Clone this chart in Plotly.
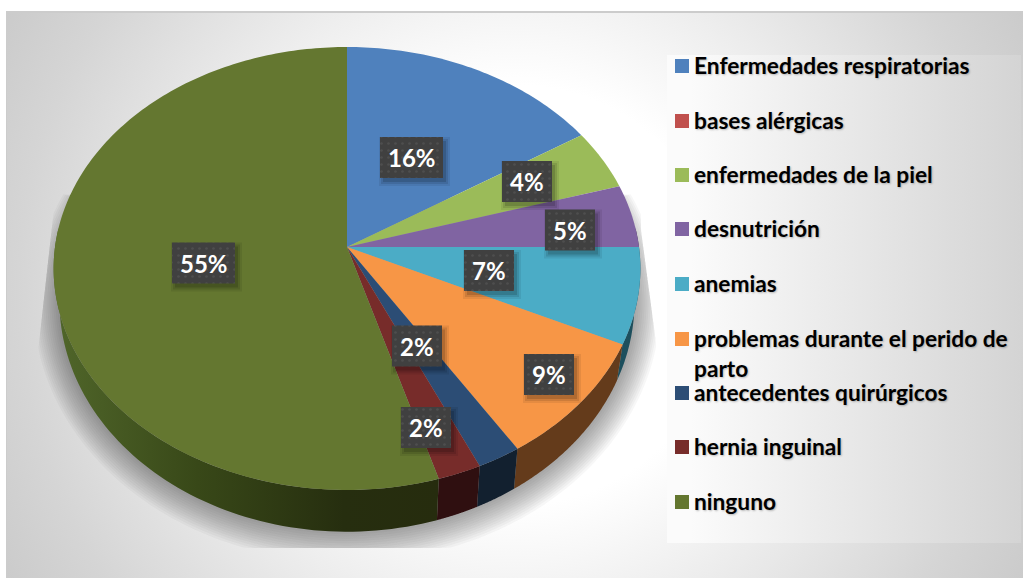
import base64
import numpy as np
import plotly.graph_objects as go

categories = ["Enfermedades respiratorias", "bases alérgicas", "enfermedades de la piel",
              "desnutrición", "anemias", "problemas durante el perido de<br>parto",
              "antecedentes quirúrgicos", "hernia inguinal", "ninguno"]
values = [16, 0, 4.4, 4.6, 7, 9, 2.2, 2.2, 54.6]
colors = ["#4F81BD", "#C0504D", "#9BBB59", "#8064A2", "#4BACC6", "#F79646", "#2C4D75", "#772C2A", "#647730"]
wall_colors = ["#27405E", "#602826", "#4D5D2C", "#403251", "#1D4F5D", "#643B1B", "#12202F", "#2F0F10", "#2A3010"]

# Layout of the tilted pie (pixels of the figure)
CX, CY, AX, BY, K = 347, 247, 292, 219.4, 0.097
WALL_SX, WALL_SY, WALL_D = 0.98, 1.04, 32
label_boxes = {0: (411.5, 157.5), 2: (527, 181.5), 3: (570, 230), 4: (489, 270.5), 5: (549, 374.5),
               6: (417, 346), 7: (426, 427.5), 8: (203.5, 263)}
LEG_Y = [66, 121, 175, 229, 284, 339, 393, 447, 502]


def top_rim(th):
    u, v = np.sin(th), np.cos(th)
    w = 1 + K * v
    return CX + AX * u / w, CY - BY * v / w


def bottom_rim(th):
    x, y = top_rim(th)
    return CX + (x - CX) * WALL_SX, CY + WALL_D + (y - CY) * WALL_SY


svg = """<svg xmlns='http://www.w3.org/2000/svg' width='1023' height='578'>
<defs>
<radialGradient id='g' gradientUnits='userSpaceOnUse' cx='515' cy='295' r='700'>
<stop offset='0.3' stop-color='#ffffff'/><stop offset='0.46' stop-color='#efefef'/>
<stop offset='0.71' stop-color='#d5d5d5'/><stop offset='1' stop-color='#bdbdbd'/></radialGradient>
<linearGradient id='p' gradientUnits='userSpaceOnUse' x1='690' y1='0' x2='1021' y2='0'>
<stop offset='0' stop-color='#fbfbfb'/><stop offset='1' stop-color='#d4d4d4'/></linearGradient>
</defs>
<rect width='1023' height='578' fill='#ffffff'/>
<rect x='6' y='11' width='1017' height='567' fill='#cccccc'/>
<rect x='7' y='13' width='1016' height='565' fill='url(#g)'/>
<rect x='667' y='55' width='354' height='488' fill='url(#p)'/>
</svg>"""
bg = "data:image/svg+xml;base64," + base64.b64encode(svg.encode()).decode()

fig = go.Figure()

# soft cast shadow under the pie, clipped to its frame like the reference
for i, t in enumerate(np.linspace(1.12, 1.0, 14)):
    th = np.radians(np.linspace(70, 290, 220))
    x, y = bottom_rim(th)
    x = CX + (x - CX) * (1 + (t - 1) * 0.75)
    y = CY + WALL_D + (y - CY - WALL_D) * t
    yc = np.minimum(y, 548)
    left = np.interp(yc, [190, 370], [56, 36])
    right = np.interp(yc, [230, 350], [641, 657])
    x = np.clip(x, left, right)
    fig.add_trace(go.Scatter(x=x, y=yc, fill="toself", mode="none", fillcolor="rgba(60,60,60,0.04)",
                             hoverinfo="skip", showlegend=False))

edges = np.cumsum([0] + values) / sum(values) * 2 * np.pi
VIS0, VIS1 = np.radians(85), np.radians(275)

# side wall of each slice
for i, name in enumerate(categories):
    a, b = max(edges[i], VIS0), min(edges[i + 1], VIS1)
    if b <= a:
        continue
    th = np.linspace(a, b, 80)
    xt, yt = top_rim(th)
    xb, yb = bottom_rim(th)
    kw = dict(fillcolor=wall_colors[i])
    if i == len(categories) - 1:
        kw = dict(fillgradient=dict(type="horizontal", start=55, stop=440,
                                    colorscale=[[0, "#50662A"], [0.37, "#384818"], [0.75, "#262E0F"], [1, "#262C0E"]]))
    fig.add_trace(go.Scatter(x=np.r_[xt, xb[::-1]], y=np.r_[yt, yb[::-1]], fill="toself", mode="none",
                             hoverinfo="skip", showlegend=False, **kw))

# top face of each slice
for i, name in enumerate(categories):
    th = np.linspace(edges[i], edges[i + 1], max(2, int((edges[i + 1] - edges[i]) * 60)))
    x, y = top_rim(th)
    fig.add_trace(go.Scatter(x=np.r_[CX, x, CX], y=np.r_[CY, y, CY], fill="toself", mode="none",
                             fillcolor=colors[i], name=name.replace("<br>", " "),
                             hoverinfo="name", showlegend=False))

annots = []
# percentage labels in dark dotted boxes
for i, (bx, by) in label_boxes.items():
    txt = f"{round(values[i] / sum(values) * 100)}%"
    hw = 31.5 if len(txt) == 3 else 25
    hh = 20.5
    for grow, alpha in ((4, 0.07), (2, 0.10), (0, 0.14)):
        sx, sy = 3, 4
        fig.add_trace(go.Scatter(
            x=[bx - hw + sx - grow, bx + hw + sx + grow, bx + hw + sx + grow, bx - hw + sx - grow, bx - hw + sx - grow],
            y=[by - hh + sy - grow, by - hh + sy - grow, by + hh + sy + grow, by + hh + sy + grow, by - hh + sy - grow],
            fill="toself", mode="none", fillcolor=f"rgba(0,0,0,{alpha})", hoverinfo="skip", showlegend=False))
    fig.add_trace(go.Scatter(
        x=[bx - hw, bx + hw, bx + hw, bx - hw, bx - hw],
        y=[by - hh, by - hh, by + hh, by + hh, by - hh],
        fill="toself", mode="none", fillcolor="#404040",
        fillpattern=dict(shape=".", size=7, solidity=0.12, fgcolor="#5c5c5c", bgcolor="#404040"),
        hoverinfo="skip", showlegend=False))
    annots.append(dict(x=bx, y=by, text=f"<b>{txt}</b>", showarrow=False, xanchor="center", yanchor="middle",
                       font=dict(family="Lato", size=24, color="#ffffff")))

# legend: swatch + label
for i, name in enumerate(categories):
    fig.add_trace(go.Scatter(x=[682], y=[LEG_Y[i]], mode="markers",
                             marker=dict(symbol="square", size=14, color=colors[i], line=dict(width=0)),
                             hoverinfo="skip", showlegend=False))
    annots.append(dict(x=692, y=LEG_Y[i] - 16, text=f"<b>{name}</b>", showarrow=False, xanchor="left", yanchor="top",
                       align="left", font=dict(family="Lato", size=22.7, color="#000000",
                                               shadow="1px 1px 2px rgba(0,0,0,0.25)")))

fig.update_layout(
    width=1023, height=578, margin=dict(l=0, r=0, t=0, b=0),
    paper_bgcolor="#ffffff", plot_bgcolor="rgba(0,0,0,0)", showlegend=False,
    xaxis=dict(range=[0, 1023], visible=False, fixedrange=True),
    yaxis=dict(range=[578, 0], visible=False, fixedrange=True),
    images=[dict(source=bg, xref="paper", yref="paper", x=0, y=1, sizex=1, sizey=1,
                 xanchor="left", yanchor="top", sizing="stretch", layer="below")],
    annotations=annots,
)
fig.write_html("out.html", config={"displayModeBar": False},
               post_script="document.body.style.margin='0';document.documentElement.style.overflow='hidden';")
